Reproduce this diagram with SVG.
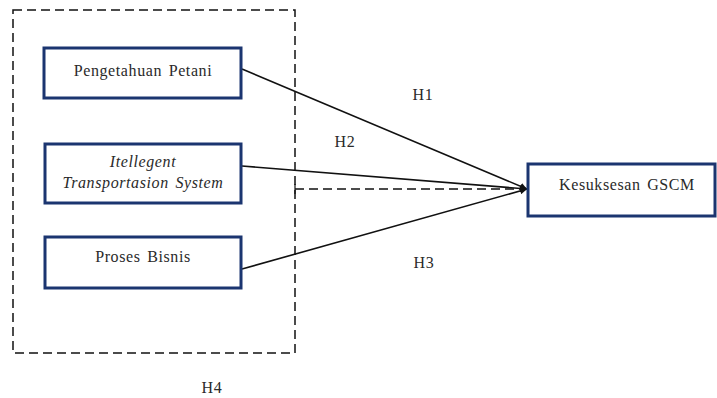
<svg xmlns="http://www.w3.org/2000/svg" width="717" height="398" viewBox="0 0 717 398">
<style>
.node{fill:#fff;stroke:#1b3570;stroke-width:3}
.t{font-family:"Liberation Serif","Times New Roman",serif;font-size:16px;fill:#2a2a2a;text-anchor:middle;letter-spacing:0.6px;word-spacing:2px}
.line{stroke:#111;stroke-width:1.6;fill:none}
.dash{stroke:#111;stroke-width:1.5;fill:none;stroke-dasharray:9 5}
</style>
<defs>
<marker id="ah" viewBox="0 0 10 10" refX="10" refY="5" markerWidth="7" markerHeight="7" orient="auto" markerUnits="userSpaceOnUse">
<path d="M0,0 L10,5 L0,10 z" fill="#111"/>
</marker>
</defs>
<g id="group-box">
<rect x="13" y="10" width="282" height="343" class="dash"/>
</g>
<g id="connectors">
<line x1="242" y1="69" x2="527" y2="189" class="line" marker-end="url(#ah)"/>
<line x1="242" y1="166" x2="527" y2="189" class="line" marker-end="url(#ah)"/>
<line x1="242" y1="269" x2="527" y2="189" class="line" marker-end="url(#ah)"/>
<line x1="295" y1="189" x2="527" y2="189" class="dash" marker-end="url(#ah)"/>
<line x1="295" y1="184" x2="295" y2="194" stroke="#111" stroke-width="1.2"/>
</g>
<g id="node-pengetahuan">
<rect x="44" y="48" width="197" height="50" class="node"/>
<text x="143" y="76" class="t">Pengetahuan Petani</text>
</g>
<g id="node-its">
<rect x="45" y="144" width="196" height="59" class="node"/>
<text x="143" y="167" class="t" font-style="italic">Itellegent</text>
<text x="143" y="188" class="t" font-style="italic">Transportasion System</text>
</g>
<g id="node-proses">
<rect x="45" y="237" width="196" height="51" class="node"/>
<text x="143" y="262" class="t">Proses Bisnis</text>
</g>
<g id="node-gscm">
<rect x="528" y="164" width="187" height="52" class="node"/>
<text x="627" y="190" class="t">Kesuksesan GSCM</text>
</g>
<g id="labels">
<text x="423" y="100" class="t">H1</text>
<text x="345" y="147" class="t">H2</text>
<text x="424" y="268" class="t">H3</text>
<text x="212" y="393" class="t">H4</text>
</g>
</svg>
